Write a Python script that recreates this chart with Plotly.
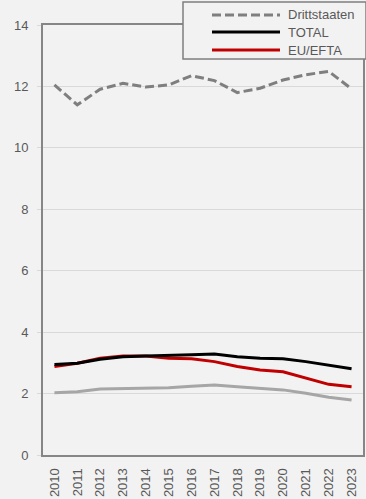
import plotly.graph_objects as go

years = [str(y) for y in range(2010, 2024)]
drittstaaten = [12.05, 11.40, 11.91, 12.10, 11.98, 12.05, 12.35, 12.19, 11.80, 11.94, 12.21, 12.38, 12.49, 11.92]
total = [2.95, 2.99, 3.12, 3.20, 3.22, 3.23, 3.26, 3.29, 3.20, 3.15, 3.13, 3.04, 2.93, 2.81]
eu_efta = [2.88, 2.99, 3.15, 3.22, 3.22, 3.15, 3.13, 3.04, 2.88, 2.77, 2.71, 2.50, 2.30, 2.22]
weitere = [2.03, 2.06, 2.15, 2.17, 2.19, 2.19, 2.24, 2.28, 2.22, 2.17, 2.12, 2.01, 1.88, 1.79]
y_ticks = [0, 2, 4, 6, 8, 10, 12, 14]

FONT = "Liberation Sans, Arial, sans-serif"
TXT = "#595959"

fig = go.Figure()
fig.add_trace(go.Scatter(x=years, y=weitere, mode="lines", name="Weitere",
                         line=dict(color="#a6a6a6", width=3), showlegend=False))
fig.add_trace(go.Scatter(x=years, y=eu_efta, mode="lines", name="EU/EFTA",
                         line=dict(color="#c00000", width=3), showlegend=False))
fig.add_trace(go.Scatter(x=years, y=total, mode="lines", name="TOTAL",
                         line=dict(color="#000000", width=3), showlegend=False))
fig.add_trace(go.Scatter(x=years, y=drittstaaten, mode="lines", name="Drittstaaten",
                         line=dict(color="#7f7f7f", width=3, dash="9px,4px"), showlegend=False))

# custom legend (box, symbols, labels)
W, H = 320.0, 430.0
def px(xp):
    return (xp - 43) / W
def py(yp):
    return (455 - yp) / H

shapes = [dict(type="rect", xref="paper", yref="paper", x0=px(183), x1=px(366), y0=py(59), y1=py(2),
               fillcolor="#f2f2f2", line=dict(color="#7f7f7f", width=1.5), layer="above")]
legend_items = [("Drittstaaten", "#7f7f7f", "9px,4px", 15),
                ("TOTAL", "#000000", "solid", 32),
                ("EU/EFTA", "#c00000", "solid", 50)]
annotations = []
for name, col, dash, yy in legend_items:
    shapes.append(dict(type="line", xref="paper", yref="paper", x0=px(212), x1=px(280), y0=py(yy), y1=py(yy),
                       line=dict(color=col, width=3, dash=dash), layer="above"))
    annotations.append(dict(xref="paper", yref="paper", x=px(286), y=py(yy), text=name, showarrow=False,
                            xanchor="left", yanchor="middle", font=dict(family=FONT, size=13, color=TXT)))

fig.update_layout(
    width=366, height=499,
    margin=dict(l=43, r=3, t=25, b=44),
    paper_bgcolor="#f2f2f2", plot_bgcolor="#f2f2f2",
    font=dict(family=FONT, size=13, color=TXT),
    shapes=shapes, annotations=annotations,
    showlegend=False,
)
fig.update_xaxes(type="category", range=[-0.5, 13.5], tickangle=-90, showgrid=False, automargin=False,
                 showline=True, linecolor="#868686", linewidth=2, mirror=True,
                 ticks="", ticklabelstandoff=6, tickfont=dict(family=FONT, size=13, color=TXT))
fig.update_yaxes(range=[0, 14], tickvals=y_ticks, showgrid=True, gridcolor="#d9d9d9", gridwidth=1,
                 automargin=False,
                 showline=True, linecolor="#868686", linewidth=2, mirror=True, zeroline=False,
                 ticks="outside", ticklen=4, tickcolor="#d9d9d9", ticklabelstandoff=6,
                 tickfont=dict(family=FONT, size=13, color=TXT))

fig.write_html("out.html", config={"displayModeBar": False},
               post_script="document.body.style.margin='0';document.body.style.background='#f2f2f2';")
